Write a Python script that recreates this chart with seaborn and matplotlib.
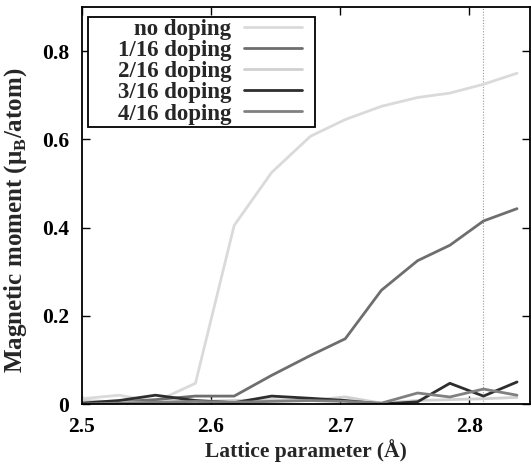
import numpy as np
import pandas as pd
import matplotlib
matplotlib.use("Agg")
import matplotlib.pyplot as plt
from matplotlib.patches import Rectangle
import seaborn as sns

lattice = [2.500, 2.529, 2.557, 2.588, 2.618, 2.647, 2.677, 2.704, 2.732, 2.760, 2.785, 2.811, 2.837]
no_doping = [0.012, 0.020, 0.005, 0.047, 0.405, 0.525, 0.607, 0.645, 0.675, 0.695, 0.705, 0.725, 0.750]
doping_1 = [0.002, 0.005, 0.010, 0.018, 0.018, 0.065, 0.110, 0.148, 0.258, 0.325, 0.360, 0.415, 0.443]
doping_2 = [0.008, 0.005, 0.003, 0.006, 0.008, 0.010, 0.008, 0.016, 0.002, 0.008, 0.010, 0.012, 0.015]
doping_3 = [0.002, 0.008, 0.020, 0.008, 0.003, 0.018, 0.013, 0.008, 0.000, 0.005, 0.047, 0.018, 0.050]
doping_4 = [0.000, 0.002, 0.004, 0.006, 0.004, 0.006, 0.008, 0.006, 0.002, 0.025, 0.016, 0.034, 0.020]
labels = ["no doping", "1/16 doping", "2/16 doping", "3/16 doping", "4/16 doping"]
x_ticks = [2.5, 2.6, 2.7, 2.8]
y_ticks = [0, 0.2, 0.4, 0.6, 0.8]
y_tick_labels = ["0", "0.2", "0.4", "0.6", "0.8"]
vline_x = 2.811

series = [no_doping, doping_1, doping_2, doping_3, doping_4]
df = pd.DataFrame({
    "x": lattice * len(series),
    "y": sum(series, []),
    "label": sum([[lab] * len(lattice) for lab in labels], []),
})

sns.set_theme(style="ticks")
plt.rcParams["font.family"] = ["Liberation Serif", "DejaVu Serif"]
plt.rcParams["font.weight"] = "bold"

colors = ["#dadada", "#6e6e6e", "#d0d0d0", "#2e2e2e", "#808080"]

fig = plt.figure(figsize=(5.31, 4.72), dpi=100)
ax = fig.add_axes([0.154, 0.144, 0.844, 0.841])
ax.axvline(vline_x, color="#999999", lw=0.8, ls=(0, (1, 1.5)), zorder=0)
sns.lineplot(data=df, x="x", y="y", hue="label", hue_order=labels,
             palette=colors, lw=2, ax=ax, legend=True)

ax.set_xlim(2.5, 2.847)
ax.set_ylim(0, 0.9)
ax.set_xticks(x_ticks)
ax.set_xticklabels([f"{t:.1f}" for t in x_ticks])
ax.set_yticks(y_ticks)
ax.set_yticklabels(y_tick_labels)
ax.tick_params(direction="in", top=True, right=True, length=6, width=1,
               labelsize=15.5, colors="black")
ax.tick_params(axis="x", pad=9)
ax.tick_params(axis="y", pad=9)
for lab in ax.get_xticklabels() + ax.get_yticklabels():
    lab.set_fontweight("bold")
for s in ax.spines.values():
    s.set_linewidth(1.3)
    s.set_color("black")
ax.set_xlabel("Lattice parameter (Å)", fontsize=15.5, fontweight="bold", labelpad=2)
ax.set_ylabel("Magnetic moment (μ$_\\mathregular{B}$/atom)", fontsize=18,
              fontweight="bold")
ax.yaxis.set_label_coords(-0.118, 0.463)

h, l = ax.get_legend_handles_labels()
leg = ax.legend(h, l, loc="upper left", bbox_to_anchor=(0.075, 0.975),
                markerfirst=False, prop={"size": 16.5, "weight": "bold"},
                frameon=False,
                borderpad=0.1, labelspacing=0.0,
                handlelength=2.55, handletextpad=0.55, borderaxespad=0)
leg._legend_box.align = "right"
leg.set_zorder(5)
for t in leg.get_texts():
    t.set_horizontalalignment("right")

# white boxed frame behind the legend, widened on the left as in the reference
fig.canvas.draw()
bb = leg.get_window_extent()
W, H = fig.bbox.width, fig.bbox.height
left_pad, right_pad = 27, 10
frame = Rectangle(((bb.x0 - left_pad) / W, bb.y0 / H),
                  (bb.width + left_pad + right_pad) / W, bb.height / H,
                  transform=fig.transFigure, facecolor="white",
                  edgecolor="black", lw=1.3, zorder=4)
ax.add_artist(frame)

fig.savefig("out.png", dpi=100)
